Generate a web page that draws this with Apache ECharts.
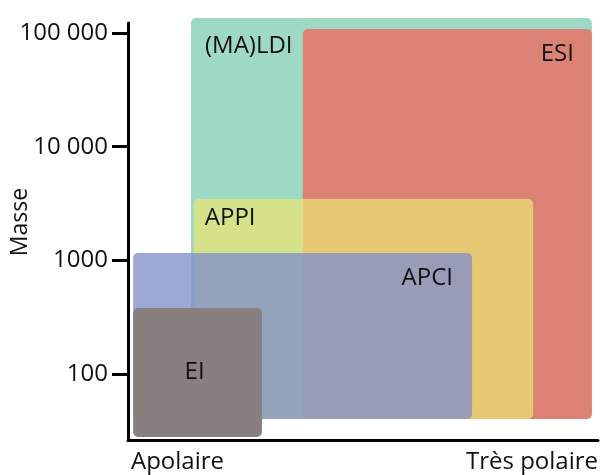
<!DOCTYPE html>
<html>
<head>
<meta charset="utf-8">
<script src="https://cdn.jsdelivr.net/npm/echarts@6/dist/echarts.min.js"></script>
<style>html,body{margin:0;padding:0;background:#fff;}#chart{width:601px;height:475px;}</style>
</head>
<body>
<div id="chart"></div>
<script>
// ---- data ----
const methods      = ['(MA)LDI', 'ESI', 'APPI', 'APCI', 'EI'];
const polarityLow  = [13.4, 37.2, 14.0, 1.1, 1.1];
const polarityHigh = [98.7, 98.7, 86.2, 73.2, 28.5];
const massLow      = [40.2, 40.2, 40.2, 40.2, 27.9];
const massHigh     = [135600, 108400, 3470, 1160, 381];
const massTicks    = [100, 1000, 10000, 100000];
const massTickLabels = ['100', '1000', '10 000', '100 000'];
const polarityEnds = [0, 100];
const polarityLabels = ['Apolaire', 'Très polaire'];

// ---- style ----
const colors = ['#9dd9c4', '#dc8274', 'rgba(235,229,115,0.72)', 'rgba(131,144,203,0.78)', '#897f7f'];
// label anchor: [corner, dx, dy, align]
const labelLayout = [
  ['left', 14, 28, 'left'],
  ['right', -18, 25, 'right'],
  ['left', 11, 19, 'left'],
  ['right', -19, 25, 'right'],
  ['center', -3, 0, 'center']
];
const FONT = '"Open Sans", "Noto Sans", sans-serif';

const seriesData = methods.map((m, i) => ({
  name: m,
  value: [polarityLow[i], polarityHigh[i], massLow[i], massHigh[i]]
}));

const chart = echarts.init(document.getElementById('chart'), null, {renderer: 'canvas'});
chart.setOption({
  animation: false,
  backgroundColor: '#fff',
  grid: {left: 128, right: 3, top: 23, bottom: 35, containLabel: false, outerBoundsMode: 'none'},
  xAxis: {
    type: 'value', min: 0, max: 100,
    splitLine: {show: false},
    axisLine: {show: true, lineStyle: {color: '#000', width: 3}},
    axisTick: {show: false},
    axisLabel: {
      show: true, customValues: polarityEnds, margin: 10,
      alignMinLabel: 'left', alignMaxLabel: 'right',
      showMinLabel: true, showMaxLabel: true,
      fontFamily: FONT, fontSize: 24, color: '#111',
      padding: [0, 0, 0, 3],
      formatter: v => polarityLabels[polarityEnds.indexOf(v)] ?? ''
    }
  },
  yAxis: {
    type: 'log', logBase: 10, min: 26.27, max: 122470,
    name: 'Masse', nameLocation: 'middle', nameGap: 96, nameRotate: 90,
    nameMoveOverlap: false,
    nameTextStyle: {fontFamily: FONT, fontSize: 23, color: '#111', padding: [0, 0, 0, 19]},
    splitLine: {show: false},
    axisLine: {show: true, lineStyle: {color: '#000', width: 3}},
    axisTick: {show: true, inside: false, length: 16, lineStyle: {color: '#000', width: 3}, customValues: massTicks},
    axisLabel: {
      show: true, customValues: massTicks, margin: 20,
      fontFamily: FONT, fontSize: 24, color: '#111',
      formatter: v => {
        const idx = massTicks.findIndex(t => Math.abs(t - v) / t < 1e-6);
        return idx >= 0 ? massTickLabels[idx] : '';
      }
    }
  },
  series: [{
    type: 'custom',
    clip: false,
    encode: {x: [0, 1], y: [2, 3]},
    data: seriesData,
    renderItem: function (params, api) {
      const i = params.dataIndex;
      const tl = api.coord([api.value(0), api.value(3)]);
      const br = api.coord([api.value(1), api.value(2)]);
      const lay = labelLayout[i];
      let tx;
      if (lay[0] === 'left') tx = tl[0] + lay[1];
      else if (lay[0] === 'right') tx = br[0] + lay[1];
      else tx = (tl[0] + br[0]) / 2 + lay[1];
      const ty = lay[0] === 'center' ? (tl[1] + br[1]) / 2 + lay[2] : tl[1] + lay[2];
      return {
        type: 'group',
        children: [{
          type: 'rect',
          shape: {x: tl[0], y: tl[1], width: br[0] - tl[0], height: br[1] - tl[1], r: 5},
          style: {fill: colors[i]}
        }, {
          type: 'text',
          x: tx, y: ty,
          style: {
            text: methods[i], fill: '#111', font: '24px ' + FONT,
            align: lay[3], verticalAlign: 'middle'
          }
        }]
      };
    }
  }]
});
</script>
</body>
</html>
